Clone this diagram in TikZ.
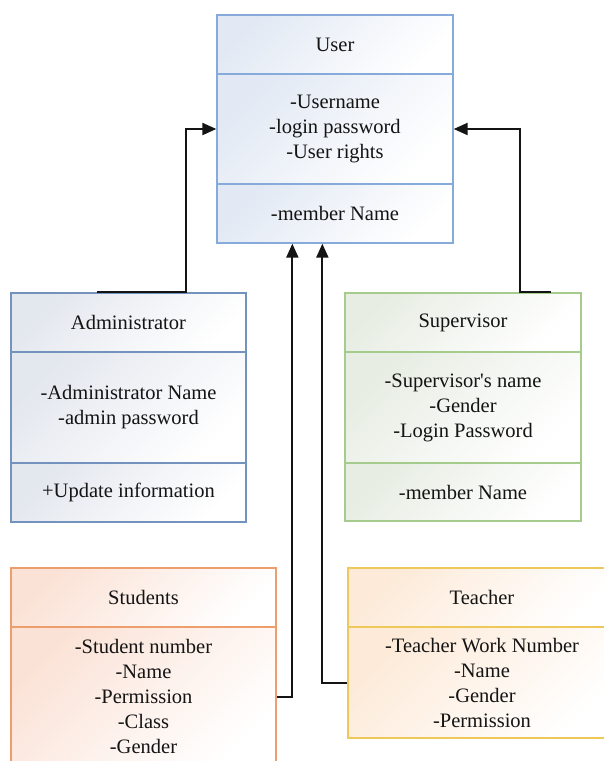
\documentclass[tikz,border=0pt]{standalone}
\usepackage{fontspec}
\setmainfont{Liberation Serif}
\usetikzlibrary{arrows.meta,calc}

\definecolor{ublue}{HTML}{86AADA}
\definecolor{ubluet}{HTML}{E2E9F4}
\definecolor{asteel}{HTML}{7393BE}
\definecolor{asteelt}{HTML}{E3E7EE}
\definecolor{sgreen}{HTML}{A5CC8C}
\definecolor{sgreent}{HTML}{E7EDE3}
\definecolor{sorange}{HTML}{EE9E6C}
\definecolor{sorangept}{HTML}{FBE2D6}
\definecolor{tyellow}{HTML}{EEC95A}
\definecolor{tyellowt}{HTML}{FDEAD8}
\definecolor{ink}{HTML}{141414}

\tikzset{
  part/.style={rectangle, inner sep=0pt, align=center, line width=1.3pt,
    text=ink, font=\fontsize{20.5}{25}\selectfont},
  userpart/.style={part, draw=ublue, top color=ubluet, bottom color=white, shading angle=45},
  adminpart/.style={part, draw=asteel, top color=asteelt, bottom color=white, shading angle=45},
  suppart/.style={part, draw=sgreen, top color=sgreent, bottom color=white, shading angle=45},
  stupart/.style={part, draw=sorange, top color=sorangept, bottom color=white, shading angle=45},
  teapart/.style={part, draw=tyellow, top color=tyellowt, bottom color=white, shading angle=45},
  conn/.style={draw=ink, line width=2pt, -{Triangle[length=14pt,width=12pt]}},
}

\begin{document}
\begin{tikzpicture}[x=1pt,y=-1pt]
\useasboundingbox (0,0) rectangle (604,761);
\clip (0,0) rectangle (604,761);

% User class
\node[userpart, minimum width=236pt, minimum height=59pt]  (usertitle) at (335,44.5) {User};
\node[userpart, minimum width=236pt, minimum height=110pt] (userattr)  at (335,129)  {-Username\\-login password\\-User rights};
\node[userpart, minimum width=236pt, minimum height=59pt]  (userops)   at (335,213.5) {-member Name};

% Administrator class
\node[adminpart, minimum width=235pt, minimum height=59pt]  (admtitle) at (128.5,322.5) {Administrator};
\node[adminpart, minimum width=235pt, minimum height=111pt] (admattr)  at (128.5,407.5) {-Administrator Name\\-admin password};
\node[adminpart, minimum width=235pt, minimum height=59pt]  (admops)   at (128.5,492.5) {+Update information};

% Supervisor class
\node[suppart, minimum width=236pt, minimum height=59pt]  (suptitle) at (463,322.5) {Supervisor};
\node[suppart, minimum width=236pt, minimum height=111pt] (supattr)  at (463,407.5) {-Supervisor\textquotesingle s name\\-Gender\\-Login Password};
\node[suppart, minimum width=236pt, minimum height=58pt]  (supops)   at (463,492)   {-member Name};

% Students class
\node[stupart, minimum width=265pt, minimum height=59pt]  (stutitle) at (143.5,597.5) {Students};
\node[stupart, minimum width=265pt, minimum height=139pt] (stuattr)  at (143.5,696.5) {-Student number\\-Name\\-Permission\\-Class\\-Gender};

% Teacher class
\node[teapart, minimum width=268pt, minimum height=59pt]  (teatitle) at (482,597.5) {Teacher};
\node[teapart, minimum width=268pt, minimum height=111pt] (teaattr)  at (482,682.5) {-Teacher Work Number\\-Name\\-Gender\\-Permission};

% Generalisation connectors
\draw[conn] ($(admtitle.north west)+(87,0)$) -- ($(admtitle.north west)+(176,0)$) |- (userattr.west);
\draw[conn] ($(suptitle.north west)+(207,0)$) -- ($(suptitle.north west)+(176,0)$) |- (userattr.east);
\draw[conn] (stuattr.east) -| ($(userops.south west)+(76,0)$);
\draw[conn] (teaattr.west) -| ($(userops.south west)+(106,0)$);
\end{tikzpicture}
\end{document}
